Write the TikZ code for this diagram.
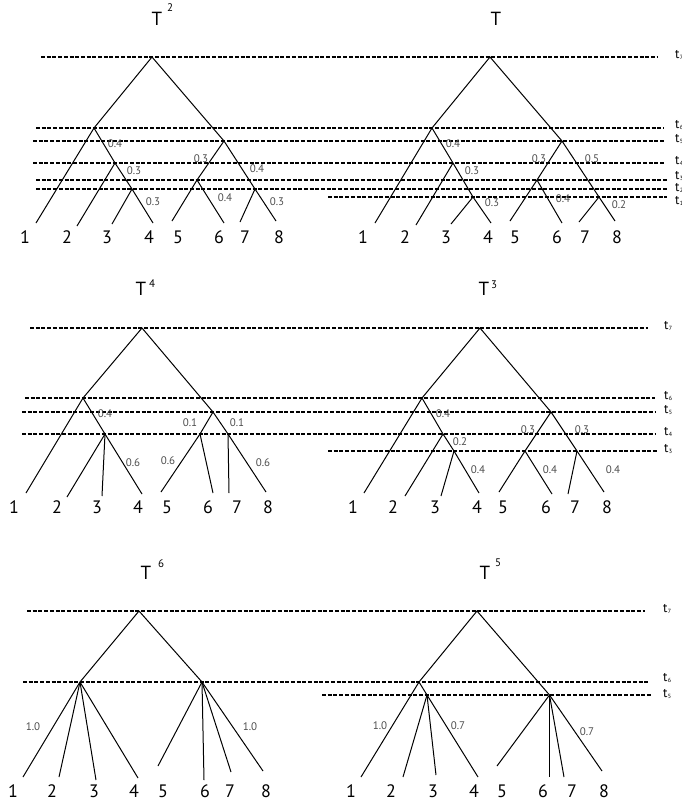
\documentclass[tikz,border=0pt]{standalone}
\usepackage{fontspec}
\setmainfont{PT Sans}
\begin{document}
\begin{tikzpicture}[x=1pt,y=-1pt,
  edge/.style={line width=1pt, line join=miter},
  level/.style={dash pattern=on 4pt off 1.7pt, line width=1.25pt},
  leaf/.style={font=\fontsize{18}{18}\selectfont, inner sep=0},
  wt/.style={font=\fontsize{11}{11}\selectfont, text=black!70, inner sep=0},
  title/.style={font=\fontsize{19}{19}\selectfont, inner sep=0},
  supx/.style={font=\fontsize{11}{11}\selectfont, inner sep=0},
  tl/.style={anchor=west, inner sep=0, font=\fontsize{13}{13}\selectfont},
]
\useasboundingbox (0,0) rectangle (681,807);
\newcommand{\tlab}[1]{t\kern0.2pt\raisebox{-1pt}{\fontsize{6}{6}\selectfont #1}}

% ================= Section 1 =================
\draw[level] (41,57) -- (658,57);
\draw[level] (36,128) -- (664,128);
\draw[level] (33,141) -- (664,141);
\draw[level] (33,163) -- (664,163);
\draw[level] (36,180) -- (667,180);
\draw[level] (36,189) -- (667,189);
\draw[level] (328,197) -- (667,197);
\node[tl] (s1t7) at (675,55) {\tlab{7}};
\node[tl] (s1t6) at (675,125) {\tlab{6}};
\node[tl] (s1t5) at (675,139) {\tlab{5}};
\node[tl] (s1t4) at (675,161) {\tlab{4}};
\node[tl] (s1t3) at (675,176) {\tlab{3}};
\node[tl] (s1t2) at (675,188) {\tlab{2}};
\node[tl] (s1t1) at (675,201) {\tlab{1}};

% ---- T^2 ----
\node[title] (a-title) at (157,19) {T};
\node[supx] (a-sup) at (170,8) {2};
\coordinate (a-r) at (152,57);
\coordinate (a-A) at (94,128);
\coordinate (a-B) at (224,141);
\coordinate (a-C) at (115,163);
\coordinate (a-D) at (132,189);
\coordinate (a-E) at (197,180);
\coordinate (a-F) at (255,189);
\coordinate (a-l1) at (36,223);
\coordinate (a-l2) at (77,226);
\coordinate (a-l3) at (112,224);
\coordinate (a-l4) at (153,223);
\coordinate (a-l5) at (172,221);
\coordinate (a-l6) at (224,223);
\coordinate (a-l7) at (240,222);
\coordinate (a-l8) at (276,221);
\draw[edge] (a-l1) -- (a-A) -- (a-r) -- (a-B) -- (a-F) -- (a-l8);
\draw[edge] (a-A) -- (a-C) -- (a-D) -- (a-l4);
\draw[edge] (a-C) -- (a-l2);
\draw[edge] (a-D) -- (a-l3);
\draw[edge] (a-B) -- (a-E) -- (a-l5);
\draw[edge] (a-E) -- (a-l6);
\draw[edge] (a-F) -- (a-l7);
\node[leaf] (a-n1) at (25,237) {1};
\node[leaf] (a-n2) at (67,237) {2};
\node[leaf] (a-n3) at (107,237) {3};
\node[leaf] (a-n4) at (149,237) {4};
\node[leaf] (a-n5) at (178,237) {5};
\node[leaf] (a-n6) at (219,237) {6};
\node[leaf] (a-n7) at (245,237) {7};
\node[leaf] (a-n8) at (279,237) {8};
\node[wt] (a-w1) at (115,144) {0.4};
\node[wt] (a-w2) at (134,171) {0.3};
\node[wt] (a-w3) at (153,202) {0.3};
\node[wt] (a-w4) at (201,159) {0.3};
\node[wt] (a-w5) at (257,169) {0.4};
\node[wt] (a-w6) at (225,198) {0.4};
\node[wt] (a-w7) at (277,202) {0.3};

% ---- T ----
\node[title] (b-title) at (496,19) {T};
\coordinate (b-r) at (490,57);
\coordinate (b-A) at (432,128);
\coordinate (b-B) at (562,141);
\coordinate (b-C) at (453,163);
\coordinate (b-D) at (473,197);
\coordinate (b-E) at (537,180);
\coordinate (b-F) at (599,197);
\coordinate (b-l1) at (375,223);
\coordinate (b-l2) at (416,225);
\coordinate (b-l3) at (451,224);
\coordinate (b-l4) at (491,223);
\coordinate (b-l5) at (510,221);
\coordinate (b-l6) at (562,223);
\coordinate (b-l7) at (579,222);
\coordinate (b-l8) at (615,221);
\draw[edge] (b-l1) -- (b-A) -- (b-r) -- (b-B) -- (b-F) -- (b-l8);
\draw[edge] (b-A) -- (b-C) -- (b-D) -- (b-l4);
\draw[edge] (b-C) -- (b-l2);
\draw[edge] (b-D) -- (b-l3);
\draw[edge] (b-B) -- (b-E) -- (b-l5);
\draw[edge] (b-E) -- (b-l6);
\draw[edge] (b-F) -- (b-l7);
\node[leaf] (b-n1) at (363,237) {1};
\node[leaf] (b-n2) at (405,237) {2};
\node[leaf] (b-n3) at (446,237) {3};
\node[leaf] (b-n4) at (488,237) {4};
\node[leaf] (b-n5) at (515,237) {5};
\node[leaf] (b-n6) at (557,237) {6};
\node[leaf] (b-n7) at (585,237) {7};
\node[leaf] (b-n8) at (617,237) {8};
\node[wt] (b-w1) at (453,144) {0.4};
\node[wt] (b-w2) at (472,171) {0.3};
\node[wt] (b-w3) at (492,203) {0.3};
\node[wt] (b-w4) at (539,159) {0.3};
\node[wt] (b-w5) at (592,159) {0.5};
\node[wt] (b-w6) at (563,199) {0.4};
\node[wt] (b-w7) at (619,205) {0.2};

% ================= Section 2 =================
\draw[level] (30,328) -- (648,328);
\draw[level] (25,398) -- (655,398);
\draw[level] (22,412) -- (655,412);
\draw[level] (22,434) -- (655,434);
\draw[level] (328,451) -- (657,451);
\node[tl] (s2t7) at (664,326) {\tlab{7}};
\node[tl] (s2t6) at (664,396) {\tlab{6}};
\node[tl] (s2t5) at (664,410) {\tlab{5}};
\node[tl] (s2t4) at (664,432) {\tlab{4}};
\node[tl] (s2t3) at (664,449) {\tlab{3}};

% ---- T^4 ----
\node[title] (c-title) at (141,289) {T};
\node[supx] (c-sup) at (152,284) {4};
\coordinate (c-r) at (142,328);
\coordinate (c-A) at (83,398);
\coordinate (c-B) at (213,412);
\coordinate (c-C) at (105,434);
\coordinate (c-E) at (200,434);
\coordinate (c-F) at (228,434);
\coordinate (c-l1) at (26,493);
\coordinate (c-l2) at (67,497);
\coordinate (c-l3) at (102,496);
\coordinate (c-l4) at (142,494);
\coordinate (c-l5) at (161,492);
\coordinate (c-l6) at (213,493);
\coordinate (c-l7) at (229,493);
\coordinate (c-l8) at (266,492);
\draw[edge] (c-l1) -- (c-A) -- (c-r) -- (c-B) -- (c-F) -- (c-l8);
\draw[edge] (c-A) -- (c-C) -- (c-l4);
\draw[edge] (c-C) -- (c-l2);
\draw[edge] (c-C) -- (c-l3);
\draw[edge] (c-B) -- (c-E) -- (c-l5);
\draw[edge] (c-E) -- (c-l6);
\draw[edge] (c-F) -- (c-l7);
\node[leaf] (c-n1) at (14,507) {1};
\node[leaf] (c-n2) at (57,507) {2};
\node[leaf] (c-n3) at (97,507) {3};
\node[leaf] (c-n4) at (138,507) {4};
\node[leaf] (c-n5) at (167,507) {5};
\node[leaf] (c-n6) at (208,507) {6};
\node[leaf] (c-n7) at (237,507) {7};
\node[leaf] (c-n8) at (268,507) {8};
\node[wt] (c-w1) at (105,414) {0.4};
\node[wt] (c-w2) at (190,423) {0.1};
\node[wt] (c-w3) at (237,423) {0.1};
\node[wt] (c-w4) at (133,463) {0.6};
\node[wt] (c-w5) at (168,461) {0.6};
\node[wt] (c-w6) at (263,463) {0.6};

% ---- T^3 ----
\node[title] (d-title) at (484,289) {T};
\node[supx] (d-sup) at (494,285) {3};
\coordinate (d-r) at (480,328);
\coordinate (d-A) at (422,398);
\coordinate (d-B) at (551,412);
\coordinate (d-C) at (443,434);
\coordinate (d-D) at (454,451);
\coordinate (d-E) at (525,451);
\coordinate (d-F) at (577,451);
\coordinate (d-l1) at (364,493);
\coordinate (d-l2) at (405,496);
\coordinate (d-l3) at (441,496);
\coordinate (d-l4) at (479,493);
\coordinate (d-l5) at (499,492);
\coordinate (d-l6) at (552,494);
\coordinate (d-l7) at (568,494);
\coordinate (d-l8) at (604,492);
\draw[edge] (d-l1) -- (d-A) -- (d-r) -- (d-B) -- (d-F) -- (d-l8);
\draw[edge] (d-A) -- (d-C) -- (d-D) -- (d-l4);
\draw[edge] (d-C) -- (d-l2);
\draw[edge] (d-D) -- (d-l3);
\draw[edge] (d-B) -- (d-E) -- (d-l5);
\draw[edge] (d-E) -- (d-l6);
\draw[edge] (d-F) -- (d-l7);
\node[leaf] (d-n1) at (353,507) {1};
\node[leaf] (d-n2) at (393,507) {2};
\node[leaf] (d-n3) at (435,507) {3};
\node[leaf] (d-n4) at (477,507) {4};
\node[leaf] (d-n5) at (503,507) {5};
\node[leaf] (d-n6) at (546,507) {6};
\node[leaf] (d-n7) at (575,507) {7};
\node[leaf] (d-n8) at (607,507) {8};
\node[wt] (d-w1) at (443,414) {0.4};
\node[wt] (d-w2) at (460,442) {0.2};
\node[wt] (d-w3) at (478,470) {0.4};
\node[wt] (d-w4) at (528,430) {0.3};
\node[wt] (d-w5) at (582,430) {0.3};
\node[wt] (d-w6) at (550,470) {0.4};
\node[wt] (d-w7) at (613,470) {0.4};

% ================= Section 3 =================
\draw[level] (27,611) -- (645,611);
\draw[level] (23,682) -- (648,682);
\draw[level] (322,695) -- (652,695);
\node[tl] (s3t7) at (663,609) {\tlab{7}};
\node[tl] (s3t6) at (663,678) {\tlab{6}};
\node[tl] (s3t5) at (663,694) {\tlab{5}};

% ---- T^6 ----
\node[title] (e-title) at (146,573) {T};
\node[supx] (e-sup) at (161,564) {6};
\coordinate (e-r) at (139,611);
\coordinate (e-A) at (80,682);
\coordinate (e-B) at (202,682);
\coordinate (e-l1) at (23,777);
\coordinate (e-l2) at (59,777);
\coordinate (e-l3) at (96,780);
\coordinate (e-l4) at (138,778);
\coordinate (e-l5) at (158,766);
\coordinate (e-l6) at (204,780);
\coordinate (e-l7) at (231,772);
\coordinate (e-l8) at (263,771);
\draw[edge] (e-A) -- (e-r) -- (e-B);
\draw[edge] (e-A) -- (e-l1);
\draw[edge] (e-A) -- (e-l2);
\draw[edge] (e-A) -- (e-l3);
\draw[edge] (e-A) -- (e-l4);
\draw[edge] (e-B) -- (e-l5);
\draw[edge] (e-B) -- (e-l6);
\draw[edge] (e-B) -- (e-l7);
\draw[edge] (e-B) -- (e-l8);
\node[leaf] (e-n1) at (13,791) {1};
\node[leaf] (e-n2) at (52,791) {2};
\node[leaf] (e-n3) at (94,791) {3};
\node[leaf] (e-n4) at (134,791) {4};
\node[leaf] (e-n5) at (163,791) {5};
\node[leaf] (e-n6) at (205,791) {6};
\node[leaf] (e-n7) at (230,791) {7};
\node[leaf] (e-n8) at (266,791) {8};
\node[wt] (e-w1) at (33,727) {1.0};
\node[wt] (e-w2) at (250,727) {1.0};

% ---- T^5 ----
\node[title] (f-title) at (485,573) {T};
\node[supx] (f-sup) at (498,563) {5};
\coordinate (f-r) at (477,611);
\coordinate (f-A) at (419,682);
\coordinate (f-B) at (549.5,695);
\coordinate (f-C) at (427,695);
\coordinate (f-l1) at (361,777);
\coordinate (f-l2) at (403,777);
\coordinate (f-l3) at (436,775);
\coordinate (f-l4) at (478,777);
\coordinate (f-l5) at (497,766);
\coordinate (f-l6) at (549.5,777);
\coordinate (f-l7) at (564,777);
\coordinate (f-l8) at (602,771);
\draw[edge] (f-l1) -- (f-A) -- (f-r) -- (f-B);
\draw[edge] (f-A) -- (f-C) -- (f-l4);
\draw[edge] (f-C) -- (f-l2);
\draw[edge] (f-C) -- (f-l3);
\draw[edge] (f-B) -- (f-l5);
\draw[edge] (f-B) -- (f-l6);
\draw[edge] (f-B) -- (f-l7);
\draw[edge] (f-B) -- (f-l8);
\node[leaf] (f-n1) at (351,791) {1};
\node[leaf] (f-n2) at (391,791) {2};
\node[leaf] (f-n3) at (433,791) {3};
\node[leaf] (f-n4) at (474,791) {4};
\node[leaf] (f-n5) at (502,791) {5};
\node[leaf] (f-n6) at (543,791) {6};
\node[leaf] (f-n7) at (572,791) {7};
\node[leaf] (f-n8) at (604,791) {8};
\node[wt] (f-w1) at (380,726) {1.0};
\node[wt] (f-w2) at (458,726) {0.7};
\node[wt] (f-w3) at (587,732) {0.7};
\end{tikzpicture}
\end{document}
